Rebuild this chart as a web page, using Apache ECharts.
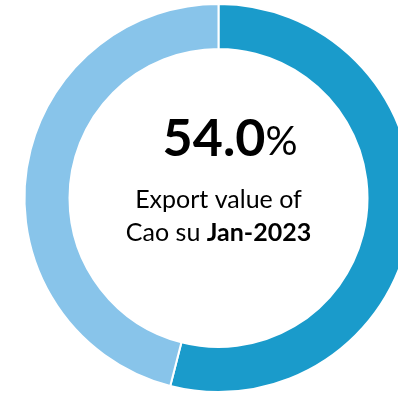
<!DOCTYPE html>
<html>
<head>
<meta charset="utf-8">
<script src="https://cdn.jsdelivr.net/npm/echarts@6/dist/echarts.min.js"></script>
<style>
  html, body { margin: 0; padding: 0; background: #fff; }
  #chart { width: 398px; height: 396px; }
</style>
</head>
<body>
<div id="chart"></div>
<script>
// Share of export value: the product versus the rest
const categories = ['Cao su', 'Other'];
const shares = [54.0, 46.0];
const sliceColors = ['#1A9BCB', '#88C4EA'];
const productName = 'Cao su';
const periodLabel = 'Jan-2023';

const chart = echarts.init(document.getElementById('chart'), null, { renderer: 'canvas' });
const font = 'Lato, "Open Sans", "Noto Sans", sans-serif';

chart.setOption({
  animation: false,
  series: [{
    type: 'pie',
    center: [218.5, 198],
    radius: [149, 194],
    startAngle: 90,
    clockwise: true,
    silent: true,
    label: { show: false },
    labelLine: { show: false },
    itemStyle: { borderColor: '#ffffff', borderWidth: 2 },
    data: categories.map((name, i) => ({
      name,
      value: shares[i],
      itemStyle: { color: sliceColors[i] }
    }))
  }],
  graphic: [{
    type: 'text',
    style: {
      x: 230,
      y: 113,
      text: '{v|' + shares[0].toFixed(1) + '}{p|%}',
      align: 'center',
      rich: {
        v: { fontFamily: font, fontWeight: 'bold', fontSize: 52, fill: '#000', verticalAlign: 'bottom' },
        p: { fontFamily: font, fontSize: 40, fill: '#000', verticalAlign: 'bottom', padding: [0, 0, 3, 0] }
      }
    }
  }, {
    type: 'text',
    style: {
      x: 218.5,
      y: 183,
      text: 'Export value of\n' + productName + ' {b|' + periodLabel + '}',
      align: 'center',
      fontFamily: font,
      fontSize: 25,
      lineHeight: 33,
      fill: '#000',
      rich: {
        b: { fontFamily: font, fontWeight: 'bold', fontSize: 25, lineHeight: 33, fill: '#000' }
      }
    }
  }]
});
</script>
</body>
</html>
